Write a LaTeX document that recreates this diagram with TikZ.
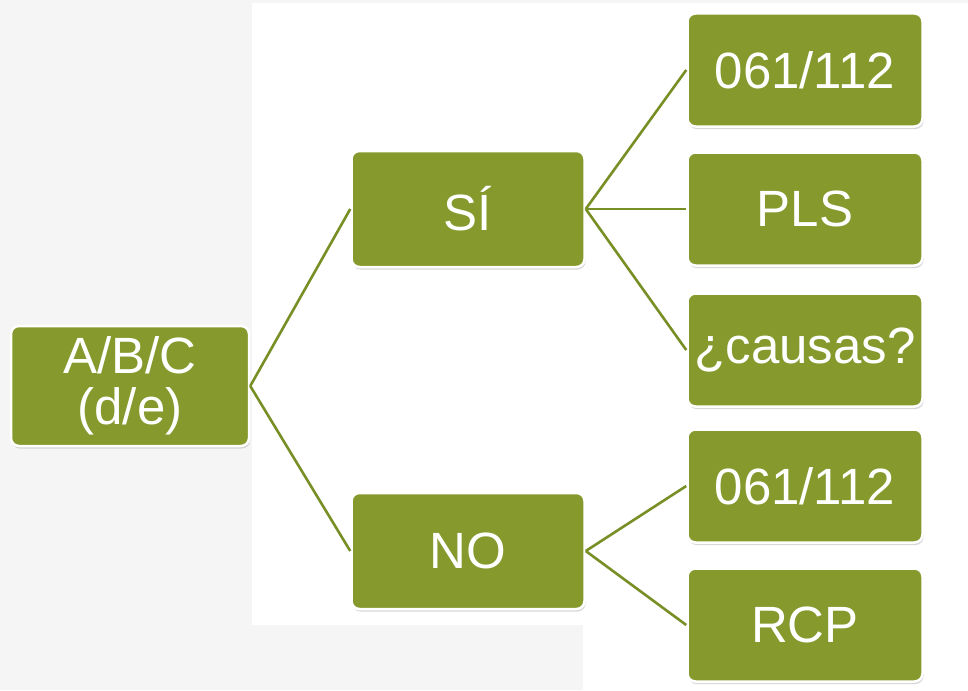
\documentclass[tikz,border=0pt]{standalone}
\usepackage{fontspec}
\setmainfont{Liberation Sans}
\usetikzlibrary{shadows}

\definecolor{oliva}{RGB}{133,153,45}
\definecolor{olivaosc}{RGB}{120,143,38}
\definecolor{fondo}{RGB}{245,245,245}

\tikzset{
  caja/.style={rectangle, rounded corners=8pt, fill=oliva, draw=white,
    line width=2.5pt, text=white, align=center,
    font=\fontsize{51}{51}\selectfont,
    drop shadow={shadow xshift=1pt, shadow yshift=-2.5pt, fill=black!30}},
  rama/.style={olivaosc, line width=2.6pt}
}

\begin{document}
\begin{tikzpicture}[x=1pt, y=-1pt]
    % Fondo: gris claro con zona blanca
    \useasboundingbox (0,0) rectangle (968,690);
    \fill[fondo] (0,0) rectangle (968,690);
    \fill[white] (252,3) -- (968,3) -- (968,690) -- (583,690)
        -- (583,625) -- (252,625) -- cycle;

    % Raiz
    \node[caja, minimum width=238pt, minimum height=120pt]
        (abc) at (130,386) {A/B/C\\(d/e)};

    % Segundo nivel
    \node[caja, minimum width=233pt, minimum height=116pt]
        (si) at (468,209) {SÍ};
    \node[caja, minimum width=233pt, minimum height=116pt]
        (no) at (468,551) {NO};

    % Tercer nivel
    \foreach \nombre/\yv/\texto in {r1/70/061\slash112, r2/209/PLS,
        r3/350/¿causas?, r4/486/061\slash112, r5/625/RCP}
        \node[caja, minimum width=235pt, minimum height=113pt]
            (\nombre) at (805,\yv) {\texto};

    % Ramas
    \draw[rama] (abc.east) -- (si.west);
    \draw[rama] (abc.east) -- (no.west);
    \foreach \hijo in {r1,r2,r3}
        \draw[rama] (si.east) -- (\hijo.west);
    \foreach \hijo in {r4,r5}
        \draw[rama] (no.east) -- (\hijo.west);
\end{tikzpicture}
\end{document}
